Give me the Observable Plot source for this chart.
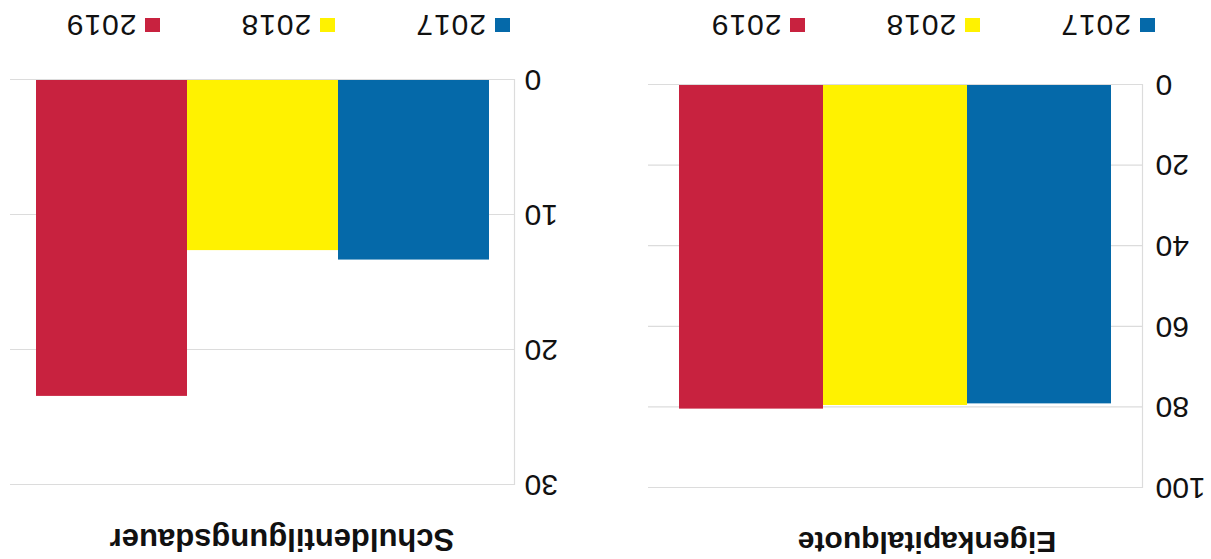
<!DOCTYPE html>
<html>
<head>
<meta charset="utf-8">
<script src="https://cdn.jsdelivr.net/npm/d3@7"></script>
<script src="https://cdn.jsdelivr.net/npm/@observablehq/plot@0.6"></script>
<style>
  html, body { margin: 0; padding: 0; background: #fff; }
  #page { position: absolute; left: 0; top: 0; width: 1211px; height: 559px;
          transform: rotate(180deg); transform-origin: 50% 50%; overflow: hidden;
          font-family: "Liberation Sans", Arial, sans-serif; color: #111; }
  .title { position: absolute; font-weight: bold; line-height: 30px; text-align: center; white-space: nowrap; }
  .legend { position: absolute; display: flex; align-items: center; font-size: 30px; line-height: 30px; }
  .legend .item { display: flex; align-items: center; margin-right: 80px; }
  .legend .sw { width: 15px; height: 14px; margin-right: 9px; }
  .legend .lab { letter-spacing: 1px; }
  .chart { position: absolute; }
</style>
</head>
<body>
<div id="page"></div>
<script>
// ---- data ----
const years = ["2017", "2018", "2019"];
const eigenkapitalquote = [79.0, 79.4, 80.3];
const schuldentilgungsdauer = [13.3, 12.6, 23.4];
const eqTicks = [0, 20, 40, 60, 80, 100];
const stTicks = [0, 10, 20, 30];
const titles = ["Eigenkapitalquote", "Schuldentilgungsdauer"];
const colors = ["#0569a9", "#fff200", "#c8223f"];

const page = document.getElementById("page");

function panel(opts) {
  const {title, values, ticks, maxY, left, width, marginLeft, marginRight, marginTop, marginBottom,
         padOuter, tickPadding, titleCenter, titleTop, titleSize, legendLeft} = opts;
  const data = years.map((y, i) => ({year: y, value: values[i]}));

  const t = document.createElement("div");
  t.className = "title";
  t.style.left = (titleCenter - 300) + "px";
  t.style.width = "600px";
  t.style.top = titleTop + "px";
  t.style.fontSize = titleSize + "px";
  t.textContent = title;
  page.appendChild(t);

  const chart = Plot.plot({
    width, height: 450,
    marginLeft, marginRight, marginTop, marginBottom,
    style: {fontSize: "30px", fontFamily: "'Liberation Sans', Arial, sans-serif", color: "#111", background: "transparent", overflow: "visible"},
    x: {domain: years, paddingInner: 0, paddingOuter: padOuter, axis: null},
    y: {domain: [0, maxY], axis: null},
    color: {domain: years, range: colors},
    marks: [
      Plot.gridY(ticks, {stroke: "#dcdcdc", strokeOpacity: 1, strokeWidth: 1.2}),
      Plot.frame({anchor: "left", stroke: "#dcdcdc", strokeOpacity: 1, strokeWidth: 1.2}),
      Plot.barY(data, {x: "year", y: "value", fill: "year"}),
      Plot.axisY({ticks, tickSize: 0, tickPadding, label: null, fill: "#111", tickFormat: d => String(d)})
    ]
  });
  const wrap = document.createElement("div");
  wrap.className = "chart";
  wrap.style.left = left + "px";
  wrap.style.top = "50px";
  wrap.appendChild(chart);
  page.appendChild(wrap);

  const lg = document.createElement("div");
  lg.className = "legend";
  lg.style.left = legendLeft + "px";
  lg.style.top = "519px";
  years.forEach((y, i) => {
    const it = document.createElement("div");
    it.className = "item";
    const sw = document.createElement("div");
    sw.className = "sw";
    sw.style.background = colors[i];
    const lab = document.createElement("span");
    lab.className = "lab";
    lab.textContent = y;
    it.appendChild(sw);
    it.appendChild(lab);
    lg.appendChild(it);
  });
  page.appendChild(lg);
}

panel({title: titles[0], values: eigenkapitalquote, ticks: eqTicks, maxY: 100,
       left: 0, width: 580, marginLeft: 68, marginRight: 17, marginTop: 21, marginBottom: 26,
       padOuter: 0.207, tickPadding: 13, titleCenter: 284, titleTop: 2, titleSize: 30, legendLeft: 56});

panel({title: titles[1], values: schuldentilgungsdauer, ticks: stTicks, maxY: 30,
       left: 600, width: 611, marginLeft: 96, marginRight: 10, marginTop: 24, marginBottom: 21,
       padOuter: 0.172, tickPadding: 10, titleCenter: 929, titleTop: 5, titleSize: 31, legendLeft: 701});
</script>
</body>
</html>
